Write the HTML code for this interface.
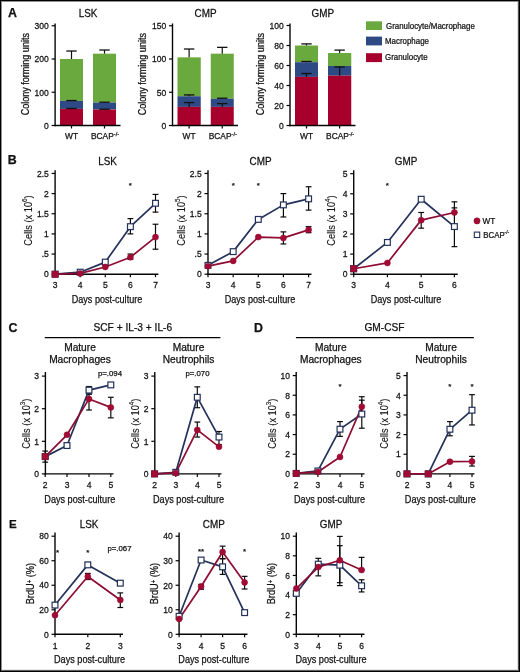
<!DOCTYPE html><html><head><meta charset="utf-8"><style>html,body{margin:0;padding:0;background:#fff;}svg{display:block;font-family:"Liberation Sans",sans-serif;will-change:transform;}text{stroke:#111;stroke-width:0.25px;}</style></head><body>
<svg width="520" height="672" viewBox="0 0 520 672">
<rect x="0" y="0" width="520" height="672" fill="#fff"/>
<text x="8" y="16.9" font-size="12.4" text-anchor="start" font-weight="bold" fill="#111111" style="stroke-width:0.25px">A</text>
<text x="7.8" y="164.3" font-size="12.4" text-anchor="start" font-weight="bold" fill="#111111" style="stroke-width:0.25px">B</text>
<text x="8.5" y="332" font-size="12.4" text-anchor="start" font-weight="bold" fill="#111111" style="stroke-width:0.25px">C</text>
<text x="254" y="332" font-size="12.4" text-anchor="start" font-weight="bold" fill="#111111" style="stroke-width:0.25px">D</text>
<text x="9" y="528.2" font-size="11.6" text-anchor="start" font-weight="bold" fill="#111111" style="stroke-width:0.25px">E</text>
<text transform="translate(88.1,17.3) scale(0.96,1)" font-size="10.3" text-anchor="middle" fill="#111111" >LSK</text>
<text transform="translate(205.5,17.3) scale(0.96,1)" font-size="10.3" text-anchor="middle" fill="#111111" >CMP</text>
<text transform="translate(322.8,17.3) scale(0.96,1)" font-size="10.3" text-anchor="middle" fill="#111111" >GMP</text>
<rect x="60" y="59.00" width="23.00" height="41.89" fill="#6aa93e"/>
<rect x="60" y="100.89" width="23.00" height="7.98" fill="#2e4a84"/>
<rect x="60" y="108.88" width="23.00" height="16.62" fill="#a7002d"/>
<line x1="71.50" y1="108.88" x2="71.50" y2="108.54" stroke="#111" stroke-width="1.2" stroke-linecap="butt"/>
<line x1="66.30" y1="108.54" x2="76.70" y2="108.54" stroke="#111" stroke-width="1.3" stroke-linecap="butt"/>
<line x1="71.50" y1="100.89" x2="71.50" y2="100.56" stroke="#111" stroke-width="1.2" stroke-linecap="butt"/>
<line x1="66.30" y1="100.56" x2="76.70" y2="100.56" stroke="#111" stroke-width="1.3" stroke-linecap="butt"/>
<line x1="71.50" y1="59.00" x2="71.50" y2="51.02" stroke="#111" stroke-width="1.2" stroke-linecap="butt"/>
<line x1="66.30" y1="51.02" x2="76.70" y2="51.02" stroke="#111" stroke-width="1.3" stroke-linecap="butt"/>
<rect x="93" y="53.68" width="23.00" height="48.88" fill="#6aa93e"/>
<rect x="93" y="102.56" width="23.00" height="6.98" fill="#2e4a84"/>
<rect x="93" y="109.54" width="23.00" height="15.96" fill="#a7002d"/>
<line x1="104.50" y1="109.54" x2="104.50" y2="109.21" stroke="#111" stroke-width="1.2" stroke-linecap="butt"/>
<line x1="99.30" y1="109.21" x2="109.70" y2="109.21" stroke="#111" stroke-width="1.3" stroke-linecap="butt"/>
<line x1="104.50" y1="102.56" x2="104.50" y2="102.22" stroke="#111" stroke-width="1.2" stroke-linecap="butt"/>
<line x1="99.30" y1="102.22" x2="109.70" y2="102.22" stroke="#111" stroke-width="1.3" stroke-linecap="butt"/>
<line x1="104.50" y1="53.68" x2="104.50" y2="50.02" stroke="#111" stroke-width="1.2" stroke-linecap="butt"/>
<line x1="99.30" y1="50.02" x2="109.70" y2="50.02" stroke="#111" stroke-width="1.3" stroke-linecap="butt"/>
<line x1="55.10" y1="23.50" x2="55.10" y2="126.15" stroke="#050505" stroke-width="1.4" stroke-linecap="butt"/>
<line x1="51.60" y1="125.50" x2="55.10" y2="125.50" stroke="#050505" stroke-width="1.2" stroke-linecap="butt"/>
<text transform="translate(48.800000000000004,128.75) scale(0.96,1)" font-size="8.9" text-anchor="end" fill="#111111" >0</text>
<line x1="51.60" y1="92.25" x2="55.10" y2="92.25" stroke="#050505" stroke-width="1.2" stroke-linecap="butt"/>
<text transform="translate(48.800000000000004,95.5) scale(0.96,1)" font-size="8.9" text-anchor="end" fill="#111111" >100</text>
<line x1="51.60" y1="59.00" x2="55.10" y2="59.00" stroke="#050505" stroke-width="1.2" stroke-linecap="butt"/>
<text transform="translate(48.800000000000004,62.25) scale(0.96,1)" font-size="8.9" text-anchor="end" fill="#111111" >200</text>
<line x1="51.60" y1="25.75" x2="55.10" y2="25.75" stroke="#050505" stroke-width="1.2" stroke-linecap="butt"/>
<text transform="translate(48.800000000000004,29.0) scale(0.96,1)" font-size="8.9" text-anchor="end" fill="#111111" >300</text>
<line x1="54.40" y1="125.50" x2="120.50" y2="125.50" stroke="#050505" stroke-width="1.4" stroke-linecap="butt"/>
<line x1="71.50" y1="125.50" x2="71.50" y2="128.50" stroke="#050505" stroke-width="1.2" stroke-linecap="butt"/>
<line x1="104.50" y1="125.50" x2="104.50" y2="128.50" stroke="#050505" stroke-width="1.2" stroke-linecap="butt"/>
<text x="71.5" y="139.3" font-size="8.4" text-anchor="middle" fill="#111111" >WT</text>
<text x="105.0" y="139.3" font-size="8.4" text-anchor="middle" fill="#111111" >BCAP<tspan dy="-3.2" font-size="5.5">-/-</tspan></text>
<rect x="177.5" y="57.34" width="23.25" height="38.90" fill="#6aa93e"/>
<rect x="177.5" y="96.24" width="23.25" height="10.64" fill="#2e4a84"/>
<rect x="177.5" y="106.88" width="23.25" height="18.62" fill="#a7002d"/>
<line x1="189.12" y1="106.88" x2="189.12" y2="102.56" stroke="#111" stroke-width="1.2" stroke-linecap="butt"/>
<line x1="183.93" y1="102.56" x2="194.32" y2="102.56" stroke="#111" stroke-width="1.3" stroke-linecap="butt"/>
<line x1="189.12" y1="96.24" x2="189.12" y2="94.91" stroke="#111" stroke-width="1.2" stroke-linecap="butt"/>
<line x1="183.93" y1="94.91" x2="194.32" y2="94.91" stroke="#111" stroke-width="1.3" stroke-linecap="butt"/>
<line x1="189.12" y1="57.34" x2="189.12" y2="49.02" stroke="#111" stroke-width="1.2" stroke-linecap="butt"/>
<line x1="183.93" y1="49.02" x2="194.32" y2="49.02" stroke="#111" stroke-width="1.3" stroke-linecap="butt"/>
<rect x="210.75" y="53.68" width="23.00" height="45.02" fill="#6aa93e"/>
<rect x="210.75" y="98.70" width="23.00" height="8.18" fill="#2e4a84"/>
<rect x="210.75" y="106.88" width="23.00" height="18.62" fill="#a7002d"/>
<line x1="222.25" y1="106.88" x2="222.25" y2="103.56" stroke="#111" stroke-width="1.2" stroke-linecap="butt"/>
<line x1="217.05" y1="103.56" x2="227.45" y2="103.56" stroke="#111" stroke-width="1.3" stroke-linecap="butt"/>
<line x1="222.25" y1="98.70" x2="222.25" y2="98.23" stroke="#111" stroke-width="1.2" stroke-linecap="butt"/>
<line x1="217.05" y1="98.23" x2="227.45" y2="98.23" stroke="#111" stroke-width="1.3" stroke-linecap="butt"/>
<line x1="222.25" y1="53.68" x2="222.25" y2="47.36" stroke="#111" stroke-width="1.2" stroke-linecap="butt"/>
<line x1="217.05" y1="47.36" x2="227.45" y2="47.36" stroke="#111" stroke-width="1.3" stroke-linecap="butt"/>
<line x1="172.50" y1="23.50" x2="172.50" y2="126.15" stroke="#050505" stroke-width="1.4" stroke-linecap="butt"/>
<line x1="169.00" y1="125.50" x2="172.50" y2="125.50" stroke="#050505" stroke-width="1.2" stroke-linecap="butt"/>
<text transform="translate(166.2,128.75) scale(0.96,1)" font-size="8.9" text-anchor="end" fill="#111111" >0</text>
<line x1="169.00" y1="92.25" x2="172.50" y2="92.25" stroke="#050505" stroke-width="1.2" stroke-linecap="butt"/>
<text transform="translate(166.2,95.5) scale(0.96,1)" font-size="8.9" text-anchor="end" fill="#111111" >50</text>
<line x1="169.00" y1="59.00" x2="172.50" y2="59.00" stroke="#050505" stroke-width="1.2" stroke-linecap="butt"/>
<text transform="translate(166.2,62.25) scale(0.96,1)" font-size="8.9" text-anchor="end" fill="#111111" >100</text>
<line x1="169.00" y1="25.75" x2="172.50" y2="25.75" stroke="#050505" stroke-width="1.2" stroke-linecap="butt"/>
<text transform="translate(166.2,29.0) scale(0.96,1)" font-size="8.9" text-anchor="end" fill="#111111" >150</text>
<line x1="171.80" y1="125.50" x2="238.00" y2="125.50" stroke="#050505" stroke-width="1.4" stroke-linecap="butt"/>
<line x1="189.12" y1="125.50" x2="189.12" y2="128.50" stroke="#050505" stroke-width="1.2" stroke-linecap="butt"/>
<line x1="222.25" y1="125.50" x2="222.25" y2="128.50" stroke="#050505" stroke-width="1.2" stroke-linecap="butt"/>
<text x="189.125" y="139.3" font-size="8.4" text-anchor="middle" fill="#111111" >WT</text>
<text x="222.75" y="139.3" font-size="8.4" text-anchor="middle" fill="#111111" >BCAP<tspan dy="-3.2" font-size="5.5">-/-</tspan></text>
<rect x="295" y="45.50" width="23.00" height="16.70" fill="#6aa93e"/>
<rect x="295" y="62.20" width="23.00" height="14.70" fill="#2e4a84"/>
<rect x="295" y="76.90" width="23.00" height="48.60" fill="#a7002d"/>
<line x1="306.50" y1="76.90" x2="306.50" y2="73.50" stroke="#111" stroke-width="1.2" stroke-linecap="butt"/>
<line x1="301.30" y1="73.50" x2="311.70" y2="73.50" stroke="#111" stroke-width="1.3" stroke-linecap="butt"/>
<line x1="306.50" y1="62.20" x2="306.50" y2="61.50" stroke="#111" stroke-width="1.2" stroke-linecap="butt"/>
<line x1="301.30" y1="61.50" x2="311.70" y2="61.50" stroke="#111" stroke-width="1.3" stroke-linecap="butt"/>
<line x1="306.50" y1="45.50" x2="306.50" y2="43.90" stroke="#111" stroke-width="1.2" stroke-linecap="butt"/>
<line x1="301.30" y1="43.90" x2="311.70" y2="43.90" stroke="#111" stroke-width="1.3" stroke-linecap="butt"/>
<rect x="328" y="53.00" width="23.25" height="13.00" fill="#6aa93e"/>
<rect x="328" y="66.00" width="23.25" height="9.70" fill="#2e4a84"/>
<rect x="328" y="75.70" width="23.25" height="49.80" fill="#a7002d"/>
<line x1="339.62" y1="75.70" x2="339.62" y2="67.00" stroke="#111" stroke-width="1.2" stroke-linecap="butt"/>
<line x1="334.43" y1="67.00" x2="344.82" y2="67.00" stroke="#111" stroke-width="1.3" stroke-linecap="butt"/>
<line x1="339.62" y1="53.00" x2="339.62" y2="50.10" stroke="#111" stroke-width="1.2" stroke-linecap="butt"/>
<line x1="334.43" y1="50.10" x2="344.82" y2="50.10" stroke="#111" stroke-width="1.3" stroke-linecap="butt"/>
<line x1="290.00" y1="23.50" x2="290.00" y2="126.15" stroke="#050505" stroke-width="1.4" stroke-linecap="butt"/>
<line x1="286.50" y1="125.50" x2="290.00" y2="125.50" stroke="#050505" stroke-width="1.2" stroke-linecap="butt"/>
<text transform="translate(283.7,128.75) scale(0.96,1)" font-size="8.9" text-anchor="end" fill="#111111" >0</text>
<line x1="286.50" y1="105.50" x2="290.00" y2="105.50" stroke="#050505" stroke-width="1.2" stroke-linecap="butt"/>
<text transform="translate(283.7,108.75) scale(0.96,1)" font-size="8.9" text-anchor="end" fill="#111111" >20</text>
<line x1="286.50" y1="85.50" x2="290.00" y2="85.50" stroke="#050505" stroke-width="1.2" stroke-linecap="butt"/>
<text transform="translate(283.7,88.75) scale(0.96,1)" font-size="8.9" text-anchor="end" fill="#111111" >40</text>
<line x1="286.50" y1="65.50" x2="290.00" y2="65.50" stroke="#050505" stroke-width="1.2" stroke-linecap="butt"/>
<text transform="translate(283.7,68.75) scale(0.96,1)" font-size="8.9" text-anchor="end" fill="#111111" >60</text>
<line x1="286.50" y1="45.50" x2="290.00" y2="45.50" stroke="#050505" stroke-width="1.2" stroke-linecap="butt"/>
<text transform="translate(283.7,48.75) scale(0.96,1)" font-size="8.9" text-anchor="end" fill="#111111" >80</text>
<line x1="286.50" y1="25.50" x2="290.00" y2="25.50" stroke="#050505" stroke-width="1.2" stroke-linecap="butt"/>
<text transform="translate(283.7,28.75) scale(0.96,1)" font-size="8.9" text-anchor="end" fill="#111111" >100</text>
<line x1="289.30" y1="125.50" x2="355.50" y2="125.50" stroke="#050505" stroke-width="1.4" stroke-linecap="butt"/>
<line x1="306.50" y1="125.50" x2="306.50" y2="128.50" stroke="#050505" stroke-width="1.2" stroke-linecap="butt"/>
<line x1="339.62" y1="125.50" x2="339.62" y2="128.50" stroke="#050505" stroke-width="1.2" stroke-linecap="butt"/>
<text x="306.5" y="139.3" font-size="8.4" text-anchor="middle" fill="#111111" >WT</text>
<text x="340.125" y="139.3" font-size="8.4" text-anchor="middle" fill="#111111" >BCAP<tspan dy="-3.2" font-size="5.5">-/-</tspan></text>
<text transform="translate(28.8,74.2) rotate(-90) scale(0.905,1)" font-size="10" text-anchor="middle" fill="#111111" >Colony forming units</text>
<text transform="translate(146.2,74.2) rotate(-90) scale(0.905,1)" font-size="10" text-anchor="middle" fill="#111111" >Colony forming units</text>
<text transform="translate(263.6,74.2) rotate(-90) scale(0.905,1)" font-size="10" text-anchor="middle" fill="#111111" >Colony forming units</text>
<rect x="366" y="21.3" width="16" height="8.7" fill="#6aa93e"/>
<rect x="366" y="36.6" width="16" height="8.8" fill="#2e4a84"/>
<rect x="366" y="53.2" width="16" height="8.9" fill="#a7002d"/>
<text transform="translate(386,28.8) scale(0.9,1)" font-size="8.8" text-anchor="start" fill="#111111" >Granulocyte/Macrophage</text>
<text transform="translate(385,43.8) scale(0.9,1)" font-size="8.8" text-anchor="start" fill="#111111" >Macrophage</text>
<text transform="translate(385,60) scale(0.9,1)" font-size="8.8" text-anchor="start" fill="#111111" >Granulocyte</text>
<text transform="translate(107.5,165) scale(0.96,1)" font-size="10.3" text-anchor="middle" fill="#111111" >LSK</text>
<text transform="translate(260.5,165) scale(0.96,1)" font-size="10.3" text-anchor="middle" fill="#111111" >CMP</text>
<text transform="translate(406,165) scale(0.96,1)" font-size="10.3" text-anchor="middle" fill="#111111" >GMP</text>
<line x1="55.10" y1="170.20" x2="55.10" y2="274.85" stroke="#050505" stroke-width="1.4" stroke-linecap="butt"/>
<line x1="51.60" y1="274.20" x2="55.10" y2="274.20" stroke="#050505" stroke-width="1.2" stroke-linecap="butt"/>
<text transform="translate(48.800000000000004,277.45) scale(0.96,1)" font-size="8.9" text-anchor="end" fill="#111111" >0</text>
<line x1="51.60" y1="254.05" x2="55.10" y2="254.05" stroke="#050505" stroke-width="1.2" stroke-linecap="butt"/>
<text transform="translate(48.800000000000004,257.29999999999995) scale(0.96,1)" font-size="8.9" text-anchor="end" fill="#111111" >.5</text>
<line x1="51.60" y1="233.90" x2="55.10" y2="233.90" stroke="#050505" stroke-width="1.2" stroke-linecap="butt"/>
<text transform="translate(48.800000000000004,237.14999999999998) scale(0.96,1)" font-size="8.9" text-anchor="end" fill="#111111" >1</text>
<line x1="51.60" y1="213.75" x2="55.10" y2="213.75" stroke="#050505" stroke-width="1.2" stroke-linecap="butt"/>
<text transform="translate(48.800000000000004,217.0) scale(0.96,1)" font-size="8.9" text-anchor="end" fill="#111111" >1.5</text>
<line x1="51.60" y1="193.60" x2="55.10" y2="193.60" stroke="#050505" stroke-width="1.2" stroke-linecap="butt"/>
<text transform="translate(48.800000000000004,196.85) scale(0.96,1)" font-size="8.9" text-anchor="end" fill="#111111" >2</text>
<line x1="51.60" y1="173.45" x2="55.10" y2="173.45" stroke="#050505" stroke-width="1.2" stroke-linecap="butt"/>
<text transform="translate(48.800000000000004,176.7) scale(0.96,1)" font-size="8.9" text-anchor="end" fill="#111111" >2.5</text>
<line x1="54.40" y1="274.20" x2="158.40" y2="274.20" stroke="#050505" stroke-width="1.4" stroke-linecap="butt"/>
<line x1="55.10" y1="274.20" x2="55.10" y2="277.20" stroke="#050505" stroke-width="1.2" stroke-linecap="butt"/>
<text transform="translate(55.1,288.4) scale(0.96,1)" font-size="8.9" text-anchor="middle" fill="#111111" >3</text>
<line x1="80.20" y1="274.20" x2="80.20" y2="277.20" stroke="#050505" stroke-width="1.2" stroke-linecap="butt"/>
<text transform="translate(80.2,288.4) scale(0.96,1)" font-size="8.9" text-anchor="middle" fill="#111111" >4</text>
<line x1="105.30" y1="274.20" x2="105.30" y2="277.20" stroke="#050505" stroke-width="1.2" stroke-linecap="butt"/>
<text transform="translate(105.3,288.4) scale(0.96,1)" font-size="8.9" text-anchor="middle" fill="#111111" >5</text>
<line x1="130.40" y1="274.20" x2="130.40" y2="277.20" stroke="#050505" stroke-width="1.2" stroke-linecap="butt"/>
<text transform="translate(130.4,288.4) scale(0.96,1)" font-size="8.9" text-anchor="middle" fill="#111111" >6</text>
<line x1="155.50" y1="274.20" x2="155.50" y2="277.20" stroke="#050505" stroke-width="1.2" stroke-linecap="butt"/>
<text transform="translate(155.5,288.4) scale(0.96,1)" font-size="8.9" text-anchor="middle" fill="#111111" >7</text>
<line x1="130.40" y1="233.90" x2="130.40" y2="218.59" stroke="#0a0a0a" stroke-width="1.2" stroke-linecap="butt"/>
<line x1="127.50" y1="233.90" x2="133.30" y2="233.90" stroke="#0a0a0a" stroke-width="1.2" stroke-linecap="butt"/>
<line x1="127.50" y1="218.59" x2="133.30" y2="218.59" stroke="#0a0a0a" stroke-width="1.2" stroke-linecap="butt"/>
<line x1="155.50" y1="212.14" x2="155.50" y2="194.41" stroke="#0a0a0a" stroke-width="1.2" stroke-linecap="butt"/>
<line x1="152.60" y1="212.14" x2="158.40" y2="212.14" stroke="#0a0a0a" stroke-width="1.2" stroke-linecap="butt"/>
<line x1="152.60" y1="194.41" x2="158.40" y2="194.41" stroke="#0a0a0a" stroke-width="1.2" stroke-linecap="butt"/>
<line x1="130.40" y1="259.29" x2="130.40" y2="254.05" stroke="#0a0a0a" stroke-width="1.2" stroke-linecap="butt"/>
<line x1="127.50" y1="259.29" x2="133.30" y2="259.29" stroke="#0a0a0a" stroke-width="1.2" stroke-linecap="butt"/>
<line x1="127.50" y1="254.05" x2="133.30" y2="254.05" stroke="#0a0a0a" stroke-width="1.2" stroke-linecap="butt"/>
<line x1="155.50" y1="249.21" x2="155.50" y2="224.23" stroke="#0a0a0a" stroke-width="1.2" stroke-linecap="butt"/>
<line x1="152.60" y1="249.21" x2="158.40" y2="249.21" stroke="#0a0a0a" stroke-width="1.2" stroke-linecap="butt"/>
<line x1="152.60" y1="224.23" x2="158.40" y2="224.23" stroke="#0a0a0a" stroke-width="1.2" stroke-linecap="butt"/>
<polyline points="55.10,274.20 80.20,272.19 105.30,262.11 130.40,226.65 155.50,203.27" fill="none" stroke="#24315a" stroke-width="1.7" stroke-linejoin="round"/>
<polyline points="55.10,274.20 80.20,273.39 105.30,266.95 130.40,257.27 155.50,237.12" fill="none" stroke="#8e0b31" stroke-width="1.7" stroke-linejoin="round"/>
<rect x="52.20" y="271.30" width="5.8" height="5.8" fill="#fff" stroke="#24315a" stroke-width="1.2"/>
<rect x="77.30" y="269.29" width="5.8" height="5.8" fill="#fff" stroke="#24315a" stroke-width="1.2"/>
<rect x="102.40" y="259.21" width="5.8" height="5.8" fill="#fff" stroke="#24315a" stroke-width="1.2"/>
<rect x="127.50" y="223.75" width="5.8" height="5.8" fill="#fff" stroke="#24315a" stroke-width="1.2"/>
<rect x="152.60" y="200.37" width="5.8" height="5.8" fill="#fff" stroke="#24315a" stroke-width="1.2"/>
<rect x="52.00" y="271.10" width="6.2" height="6.2" fill="#a50a35" stroke="#8a0a2c" stroke-width="0.5"/>
<circle cx="80.20" cy="273.39" r="3.0" fill="#a50a35" stroke="#8a0a2c" stroke-width="0.5"/>
<circle cx="105.30" cy="266.95" r="3.0" fill="#a50a35" stroke="#8a0a2c" stroke-width="0.5"/>
<circle cx="130.40" cy="257.27" r="3.0" fill="#a50a35" stroke="#8a0a2c" stroke-width="0.5"/>
<circle cx="155.50" cy="237.12" r="3.0" fill="#a50a35" stroke="#8a0a2c" stroke-width="0.5"/>
<text x="130.4" y="187.5" font-size="8" text-anchor="middle" fill="#111111" >*</text>
<line x1="208.00" y1="170.20" x2="208.00" y2="274.85" stroke="#050505" stroke-width="1.4" stroke-linecap="butt"/>
<line x1="204.50" y1="274.20" x2="208.00" y2="274.20" stroke="#050505" stroke-width="1.2" stroke-linecap="butt"/>
<text transform="translate(201.7,277.45) scale(0.96,1)" font-size="8.9" text-anchor="end" fill="#111111" >0</text>
<line x1="204.50" y1="254.05" x2="208.00" y2="254.05" stroke="#050505" stroke-width="1.2" stroke-linecap="butt"/>
<text transform="translate(201.7,257.29999999999995) scale(0.96,1)" font-size="8.9" text-anchor="end" fill="#111111" >.5</text>
<line x1="204.50" y1="233.90" x2="208.00" y2="233.90" stroke="#050505" stroke-width="1.2" stroke-linecap="butt"/>
<text transform="translate(201.7,237.14999999999998) scale(0.96,1)" font-size="8.9" text-anchor="end" fill="#111111" >1</text>
<line x1="204.50" y1="213.75" x2="208.00" y2="213.75" stroke="#050505" stroke-width="1.2" stroke-linecap="butt"/>
<text transform="translate(201.7,217.0) scale(0.96,1)" font-size="8.9" text-anchor="end" fill="#111111" >1.5</text>
<line x1="204.50" y1="193.60" x2="208.00" y2="193.60" stroke="#050505" stroke-width="1.2" stroke-linecap="butt"/>
<text transform="translate(201.7,196.85) scale(0.96,1)" font-size="8.9" text-anchor="end" fill="#111111" >2</text>
<line x1="204.50" y1="173.45" x2="208.00" y2="173.45" stroke="#050505" stroke-width="1.2" stroke-linecap="butt"/>
<text transform="translate(201.7,176.7) scale(0.96,1)" font-size="8.9" text-anchor="end" fill="#111111" >2.5</text>
<line x1="207.30" y1="274.20" x2="311.50" y2="274.20" stroke="#050505" stroke-width="1.4" stroke-linecap="butt"/>
<line x1="208.00" y1="274.20" x2="208.00" y2="277.20" stroke="#050505" stroke-width="1.2" stroke-linecap="butt"/>
<text transform="translate(208,288.4) scale(0.96,1)" font-size="8.9" text-anchor="middle" fill="#111111" >3</text>
<line x1="233.20" y1="274.20" x2="233.20" y2="277.20" stroke="#050505" stroke-width="1.2" stroke-linecap="butt"/>
<text transform="translate(233.2,288.4) scale(0.96,1)" font-size="8.9" text-anchor="middle" fill="#111111" >4</text>
<line x1="258.30" y1="274.20" x2="258.30" y2="277.20" stroke="#050505" stroke-width="1.2" stroke-linecap="butt"/>
<text transform="translate(258.3,288.4) scale(0.96,1)" font-size="8.9" text-anchor="middle" fill="#111111" >5</text>
<line x1="283.40" y1="274.20" x2="283.40" y2="277.20" stroke="#050505" stroke-width="1.2" stroke-linecap="butt"/>
<text transform="translate(283.4,288.4) scale(0.96,1)" font-size="8.9" text-anchor="middle" fill="#111111" >6</text>
<line x1="308.60" y1="274.20" x2="308.60" y2="277.20" stroke="#050505" stroke-width="1.2" stroke-linecap="butt"/>
<text transform="translate(308.6,288.4) scale(0.96,1)" font-size="8.9" text-anchor="middle" fill="#111111" >7</text>
<line x1="283.40" y1="216.97" x2="283.40" y2="193.60" stroke="#0a0a0a" stroke-width="1.2" stroke-linecap="butt"/>
<line x1="280.50" y1="216.97" x2="286.30" y2="216.97" stroke="#0a0a0a" stroke-width="1.2" stroke-linecap="butt"/>
<line x1="280.50" y1="193.60" x2="286.30" y2="193.60" stroke="#0a0a0a" stroke-width="1.2" stroke-linecap="butt"/>
<line x1="308.60" y1="210.12" x2="308.60" y2="186.75" stroke="#0a0a0a" stroke-width="1.2" stroke-linecap="butt"/>
<line x1="305.70" y1="210.12" x2="311.50" y2="210.12" stroke="#0a0a0a" stroke-width="1.2" stroke-linecap="butt"/>
<line x1="305.70" y1="186.75" x2="311.50" y2="186.75" stroke="#0a0a0a" stroke-width="1.2" stroke-linecap="butt"/>
<line x1="283.40" y1="243.97" x2="283.40" y2="231.88" stroke="#0a0a0a" stroke-width="1.2" stroke-linecap="butt"/>
<line x1="280.50" y1="243.97" x2="286.30" y2="243.97" stroke="#0a0a0a" stroke-width="1.2" stroke-linecap="butt"/>
<line x1="280.50" y1="231.88" x2="286.30" y2="231.88" stroke="#0a0a0a" stroke-width="1.2" stroke-linecap="butt"/>
<line x1="308.60" y1="232.69" x2="308.60" y2="226.65" stroke="#0a0a0a" stroke-width="1.2" stroke-linecap="butt"/>
<line x1="305.70" y1="232.69" x2="311.50" y2="232.69" stroke="#0a0a0a" stroke-width="1.2" stroke-linecap="butt"/>
<line x1="305.70" y1="226.65" x2="311.50" y2="226.65" stroke="#0a0a0a" stroke-width="1.2" stroke-linecap="butt"/>
<polyline points="208.00,265.33 233.20,251.63 258.30,219.39 283.40,204.88 308.60,198.84" fill="none" stroke="#24315a" stroke-width="1.7" stroke-linejoin="round"/>
<polyline points="208.00,266.14 233.20,260.90 258.30,237.12 283.40,237.93 308.60,229.87" fill="none" stroke="#8e0b31" stroke-width="1.7" stroke-linejoin="round"/>
<rect x="205.10" y="262.43" width="5.8" height="5.8" fill="#fff" stroke="#24315a" stroke-width="1.2"/>
<rect x="230.30" y="248.73" width="5.8" height="5.8" fill="#fff" stroke="#24315a" stroke-width="1.2"/>
<rect x="255.40" y="216.49" width="5.8" height="5.8" fill="#fff" stroke="#24315a" stroke-width="1.2"/>
<rect x="280.50" y="201.98" width="5.8" height="5.8" fill="#fff" stroke="#24315a" stroke-width="1.2"/>
<rect x="305.70" y="195.94" width="5.8" height="5.8" fill="#fff" stroke="#24315a" stroke-width="1.2"/>
<circle cx="208.00" cy="266.14" r="3.0" fill="#a50a35" stroke="#8a0a2c" stroke-width="0.5"/>
<circle cx="233.20" cy="260.90" r="3.0" fill="#a50a35" stroke="#8a0a2c" stroke-width="0.5"/>
<circle cx="258.30" cy="237.12" r="3.0" fill="#a50a35" stroke="#8a0a2c" stroke-width="0.5"/>
<circle cx="283.40" cy="237.93" r="3.0" fill="#a50a35" stroke="#8a0a2c" stroke-width="0.5"/>
<circle cx="308.60" cy="229.87" r="3.0" fill="#a50a35" stroke="#8a0a2c" stroke-width="0.5"/>
<text x="233.2" y="187.5" font-size="8" text-anchor="middle" fill="#111111" >*</text>
<text x="258.3" y="187.5" font-size="8" text-anchor="middle" fill="#111111" >*</text>
<line x1="353.70" y1="170.20" x2="353.70" y2="274.85" stroke="#050505" stroke-width="1.4" stroke-linecap="butt"/>
<line x1="350.20" y1="274.20" x2="353.70" y2="274.20" stroke="#050505" stroke-width="1.2" stroke-linecap="butt"/>
<text transform="translate(347.4,277.45) scale(0.96,1)" font-size="8.9" text-anchor="end" fill="#111111" >0</text>
<line x1="350.20" y1="254.10" x2="353.70" y2="254.10" stroke="#050505" stroke-width="1.2" stroke-linecap="butt"/>
<text transform="translate(347.4,257.35) scale(0.96,1)" font-size="8.9" text-anchor="end" fill="#111111" >1</text>
<line x1="350.20" y1="234.00" x2="353.70" y2="234.00" stroke="#050505" stroke-width="1.2" stroke-linecap="butt"/>
<text transform="translate(347.4,237.25) scale(0.96,1)" font-size="8.9" text-anchor="end" fill="#111111" >2</text>
<line x1="350.20" y1="213.90" x2="353.70" y2="213.90" stroke="#050505" stroke-width="1.2" stroke-linecap="butt"/>
<text transform="translate(347.4,217.14999999999998) scale(0.96,1)" font-size="8.9" text-anchor="end" fill="#111111" >3</text>
<line x1="350.20" y1="193.80" x2="353.70" y2="193.80" stroke="#050505" stroke-width="1.2" stroke-linecap="butt"/>
<text transform="translate(347.4,197.04999999999998) scale(0.96,1)" font-size="8.9" text-anchor="end" fill="#111111" >4</text>
<line x1="350.20" y1="173.70" x2="353.70" y2="173.70" stroke="#050505" stroke-width="1.2" stroke-linecap="butt"/>
<text transform="translate(347.4,176.95) scale(0.96,1)" font-size="8.9" text-anchor="end" fill="#111111" >5</text>
<line x1="353.00" y1="274.20" x2="457.70" y2="274.20" stroke="#050505" stroke-width="1.4" stroke-linecap="butt"/>
<line x1="353.70" y1="274.20" x2="353.70" y2="277.20" stroke="#050505" stroke-width="1.2" stroke-linecap="butt"/>
<text transform="translate(353.7,288.4) scale(0.96,1)" font-size="8.9" text-anchor="middle" fill="#111111" >3</text>
<line x1="387.40" y1="274.20" x2="387.40" y2="277.20" stroke="#050505" stroke-width="1.2" stroke-linecap="butt"/>
<text transform="translate(387.4,288.4) scale(0.96,1)" font-size="8.9" text-anchor="middle" fill="#111111" >4</text>
<line x1="421.20" y1="274.20" x2="421.20" y2="277.20" stroke="#050505" stroke-width="1.2" stroke-linecap="butt"/>
<text transform="translate(421.2,288.4) scale(0.96,1)" font-size="8.9" text-anchor="middle" fill="#111111" >5</text>
<line x1="454.40" y1="274.20" x2="454.40" y2="277.20" stroke="#050505" stroke-width="1.2" stroke-linecap="butt"/>
<text transform="translate(454.4,288.4) scale(0.96,1)" font-size="8.9" text-anchor="middle" fill="#111111" >6</text>
<line x1="454.40" y1="246.66" x2="454.40" y2="207.87" stroke="#0a0a0a" stroke-width="1.2" stroke-linecap="butt"/>
<line x1="451.50" y1="246.66" x2="457.30" y2="246.66" stroke="#0a0a0a" stroke-width="1.2" stroke-linecap="butt"/>
<line x1="451.50" y1="207.87" x2="457.30" y2="207.87" stroke="#0a0a0a" stroke-width="1.2" stroke-linecap="butt"/>
<line x1="421.20" y1="228.17" x2="421.20" y2="212.49" stroke="#0a0a0a" stroke-width="1.2" stroke-linecap="butt"/>
<line x1="418.30" y1="228.17" x2="424.10" y2="228.17" stroke="#0a0a0a" stroke-width="1.2" stroke-linecap="butt"/>
<line x1="418.30" y1="212.49" x2="424.10" y2="212.49" stroke="#0a0a0a" stroke-width="1.2" stroke-linecap="butt"/>
<line x1="454.40" y1="212.49" x2="454.40" y2="201.84" stroke="#0a0a0a" stroke-width="1.2" stroke-linecap="butt"/>
<line x1="451.50" y1="212.49" x2="457.30" y2="212.49" stroke="#0a0a0a" stroke-width="1.2" stroke-linecap="butt"/>
<line x1="451.50" y1="201.84" x2="457.30" y2="201.84" stroke="#0a0a0a" stroke-width="1.2" stroke-linecap="butt"/>
<polyline points="353.70,268.77 387.40,242.44 421.20,199.23 454.40,226.56" fill="none" stroke="#24315a" stroke-width="1.7" stroke-linejoin="round"/>
<polyline points="353.70,268.77 387.40,262.94 421.20,220.13 454.40,212.49" fill="none" stroke="#8e0b31" stroke-width="1.7" stroke-linejoin="round"/>
<rect x="350.80" y="265.87" width="5.8" height="5.8" fill="#fff" stroke="#24315a" stroke-width="1.2"/>
<rect x="384.50" y="239.54" width="5.8" height="5.8" fill="#fff" stroke="#24315a" stroke-width="1.2"/>
<rect x="418.30" y="196.33" width="5.8" height="5.8" fill="#fff" stroke="#24315a" stroke-width="1.2"/>
<rect x="451.50" y="223.66" width="5.8" height="5.8" fill="#fff" stroke="#24315a" stroke-width="1.2"/>
<rect x="350.60" y="265.67" width="6.2" height="6.2" fill="#a50a35" stroke="#8a0a2c" stroke-width="0.5"/>
<circle cx="387.40" cy="262.94" r="3.0" fill="#a50a35" stroke="#8a0a2c" stroke-width="0.5"/>
<circle cx="421.20" cy="220.13" r="3.0" fill="#a50a35" stroke="#8a0a2c" stroke-width="0.5"/>
<circle cx="454.40" cy="212.49" r="3.0" fill="#a50a35" stroke="#8a0a2c" stroke-width="0.5"/>
<text x="387.4" y="187.5" font-size="8" text-anchor="middle" fill="#111111" >*</text>
<text transform="translate(31.5,220.5) rotate(-90) scale(0.9,1)" font-size="10.3" text-anchor="middle" fill="#111111" style="stroke-width:0.12px">Cells (x 10<tspan dy="-4.6" font-size="7">6</tspan><tspan dy="4.6">)</tspan></text>
<text x="107" y="303.0" font-size="10.6" text-anchor="middle" textLength="70.5" lengthAdjust="spacingAndGlyphs" fill="#111111" >Days post-culture</text>
<text transform="translate(184.5,220.5) rotate(-90) scale(0.9,1)" font-size="10.3" text-anchor="middle" fill="#111111" style="stroke-width:0.12px">Cells (x 10<tspan dy="-4.6" font-size="7">5</tspan><tspan dy="4.6">)</tspan></text>
<text x="260" y="303.0" font-size="10.6" text-anchor="middle" textLength="70.5" lengthAdjust="spacingAndGlyphs" fill="#111111" >Days post-culture</text>
<text transform="translate(334.5,220.5) rotate(-90) scale(0.9,1)" font-size="10.3" text-anchor="middle" fill="#111111" style="stroke-width:0.12px">Cells (x 10<tspan dy="-4.6" font-size="7">4</tspan><tspan dy="4.6">)</tspan></text>
<text x="406" y="303.0" font-size="10.6" text-anchor="middle" textLength="70.5" lengthAdjust="spacingAndGlyphs" fill="#111111" >Days post-culture</text>
<circle cx="477" cy="220.9" r="3.1" fill="#a50a35" stroke="#8a0a2c" stroke-width="0.5"/>
<text transform="translate(482.6,223.6) scale(0.93,1)" font-size="8.8" text-anchor="start" fill="#111111" >WT</text>
<rect x="474.3" y="232.1" width="5.4" height="5.4" fill="#fff" stroke="#24315a" stroke-width="1.1"/>
<text transform="translate(483.3,237.5) scale(0.9,1)" font-size="8.7" text-anchor="start" fill="#111111" >BCAP<tspan dy="-3.2" font-size="5.5">-/-</tspan></text>
<text x="132.8" y="331.3" font-size="10.2" text-anchor="middle" fill="#111111" >SCF + IL-3 + IL-6</text>
<line x1="44.70" y1="337.70" x2="220.40" y2="337.70" stroke="#050505" stroke-width="1.3" stroke-linecap="butt"/>
<text x="384.5" y="331.3" font-size="10.2" text-anchor="middle" fill="#111111" >GM-CSF</text>
<line x1="295.90" y1="337.70" x2="473.90" y2="337.70" stroke="#050505" stroke-width="1.3" stroke-linecap="butt"/>
<text x="80" y="350.6" font-size="10.2" text-anchor="middle" fill="#111111" >Mature</text>
<text x="80" y="362.6" font-size="10.2" text-anchor="middle" fill="#111111" >Macrophages</text>
<text x="188.5" y="350.6" font-size="10.2" text-anchor="middle" fill="#111111" >Mature</text>
<text x="188.5" y="362.6" font-size="10.2" text-anchor="middle" fill="#111111" >Neutrophils</text>
<text x="330.8" y="350.6" font-size="10.2" text-anchor="middle" fill="#111111" >Mature</text>
<text x="330.8" y="362.6" font-size="10.2" text-anchor="middle" fill="#111111" >Macrophages</text>
<text x="441" y="350.6" font-size="10.2" text-anchor="middle" fill="#111111" >Mature</text>
<text x="441" y="362.6" font-size="10.2" text-anchor="middle" fill="#111111" >Neutrophils</text>
<line x1="45.40" y1="372.00" x2="45.40" y2="474.55" stroke="#050505" stroke-width="1.4" stroke-linecap="butt"/>
<line x1="41.90" y1="473.90" x2="45.40" y2="473.90" stroke="#050505" stroke-width="1.2" stroke-linecap="butt"/>
<text transform="translate(39.1,477.15) scale(0.96,1)" font-size="8.9" text-anchor="end" fill="#111111" >0</text>
<line x1="41.90" y1="441.30" x2="45.40" y2="441.30" stroke="#050505" stroke-width="1.2" stroke-linecap="butt"/>
<text transform="translate(39.1,444.54999999999995) scale(0.96,1)" font-size="8.9" text-anchor="end" fill="#111111" >1</text>
<line x1="41.90" y1="408.70" x2="45.40" y2="408.70" stroke="#050505" stroke-width="1.2" stroke-linecap="butt"/>
<text transform="translate(39.1,411.95) scale(0.96,1)" font-size="8.9" text-anchor="end" fill="#111111" >2</text>
<line x1="41.90" y1="376.10" x2="45.40" y2="376.10" stroke="#050505" stroke-width="1.2" stroke-linecap="butt"/>
<text transform="translate(39.1,379.34999999999997) scale(0.96,1)" font-size="8.9" text-anchor="end" fill="#111111" >3</text>
<line x1="44.70" y1="473.90" x2="113.50" y2="473.90" stroke="#050505" stroke-width="1.4" stroke-linecap="butt"/>
<line x1="45.20" y1="473.90" x2="45.20" y2="476.90" stroke="#050505" stroke-width="1.2" stroke-linecap="butt"/>
<text transform="translate(45.2,487.8) scale(0.96,1)" font-size="8.9" text-anchor="middle" fill="#111111" >2</text>
<line x1="67.00" y1="473.90" x2="67.00" y2="476.90" stroke="#050505" stroke-width="1.2" stroke-linecap="butt"/>
<text transform="translate(67,487.8) scale(0.96,1)" font-size="8.9" text-anchor="middle" fill="#111111" >3</text>
<line x1="89.00" y1="473.90" x2="89.00" y2="476.90" stroke="#050505" stroke-width="1.2" stroke-linecap="butt"/>
<text transform="translate(89,487.8) scale(0.96,1)" font-size="8.9" text-anchor="middle" fill="#111111" >4</text>
<line x1="110.80" y1="473.90" x2="110.80" y2="476.90" stroke="#050505" stroke-width="1.2" stroke-linecap="butt"/>
<text transform="translate(110.8,487.8) scale(0.96,1)" font-size="8.9" text-anchor="middle" fill="#111111" >5</text>
<line x1="89.00" y1="394.03" x2="89.00" y2="386.53" stroke="#0a0a0a" stroke-width="1.2" stroke-linecap="butt"/>
<line x1="86.10" y1="394.03" x2="91.90" y2="394.03" stroke="#0a0a0a" stroke-width="1.2" stroke-linecap="butt"/>
<line x1="86.10" y1="386.53" x2="91.90" y2="386.53" stroke="#0a0a0a" stroke-width="1.2" stroke-linecap="butt"/>
<line x1="45.20" y1="462.16" x2="45.20" y2="451.08" stroke="#0a0a0a" stroke-width="1.2" stroke-linecap="butt"/>
<line x1="42.30" y1="462.16" x2="48.10" y2="462.16" stroke="#0a0a0a" stroke-width="1.2" stroke-linecap="butt"/>
<line x1="42.30" y1="451.08" x2="48.10" y2="451.08" stroke="#0a0a0a" stroke-width="1.2" stroke-linecap="butt"/>
<line x1="89.00" y1="410.00" x2="89.00" y2="394.03" stroke="#0a0a0a" stroke-width="1.2" stroke-linecap="butt"/>
<line x1="86.10" y1="410.00" x2="91.90" y2="410.00" stroke="#0a0a0a" stroke-width="1.2" stroke-linecap="butt"/>
<line x1="86.10" y1="394.03" x2="91.90" y2="394.03" stroke="#0a0a0a" stroke-width="1.2" stroke-linecap="butt"/>
<line x1="110.80" y1="417.83" x2="110.80" y2="397.29" stroke="#0a0a0a" stroke-width="1.2" stroke-linecap="butt"/>
<line x1="107.90" y1="417.83" x2="113.70" y2="417.83" stroke="#0a0a0a" stroke-width="1.2" stroke-linecap="butt"/>
<line x1="107.90" y1="397.29" x2="113.70" y2="397.29" stroke="#0a0a0a" stroke-width="1.2" stroke-linecap="butt"/>
<polyline points="45.20,456.62 67.00,445.54 89.00,390.12 110.80,384.90" fill="none" stroke="#24315a" stroke-width="1.7" stroke-linejoin="round"/>
<polyline points="45.20,456.62 67.00,434.78 89.00,398.92 110.80,407.40" fill="none" stroke="#8e0b31" stroke-width="1.7" stroke-linejoin="round"/>
<rect x="42.30" y="453.72" width="5.8" height="5.8" fill="#fff" stroke="#24315a" stroke-width="1.2"/>
<rect x="64.10" y="442.64" width="5.8" height="5.8" fill="#fff" stroke="#24315a" stroke-width="1.2"/>
<rect x="86.10" y="387.22" width="5.8" height="5.8" fill="#fff" stroke="#24315a" stroke-width="1.2"/>
<rect x="107.90" y="382.00" width="5.8" height="5.8" fill="#fff" stroke="#24315a" stroke-width="1.2"/>
<rect x="42.10" y="453.52" width="6.2" height="6.2" fill="#a50a35" stroke="#8a0a2c" stroke-width="0.5"/>
<circle cx="67.00" cy="434.78" r="3.0" fill="#a50a35" stroke="#8a0a2c" stroke-width="0.5"/>
<circle cx="89.00" cy="398.92" r="3.0" fill="#a50a35" stroke="#8a0a2c" stroke-width="0.5"/>
<circle cx="110.80" cy="407.40" r="3.0" fill="#a50a35" stroke="#8a0a2c" stroke-width="0.5"/>
<line x1="154.80" y1="372.00" x2="154.80" y2="474.55" stroke="#050505" stroke-width="1.4" stroke-linecap="butt"/>
<line x1="151.30" y1="473.90" x2="154.80" y2="473.90" stroke="#050505" stroke-width="1.2" stroke-linecap="butt"/>
<text transform="translate(148.5,477.15) scale(0.96,1)" font-size="8.9" text-anchor="end" fill="#111111" >0</text>
<line x1="151.30" y1="441.30" x2="154.80" y2="441.30" stroke="#050505" stroke-width="1.2" stroke-linecap="butt"/>
<text transform="translate(148.5,444.54999999999995) scale(0.96,1)" font-size="8.9" text-anchor="end" fill="#111111" >1</text>
<line x1="151.30" y1="408.70" x2="154.80" y2="408.70" stroke="#050505" stroke-width="1.2" stroke-linecap="butt"/>
<text transform="translate(148.5,411.95) scale(0.96,1)" font-size="8.9" text-anchor="end" fill="#111111" >2</text>
<line x1="151.30" y1="376.10" x2="154.80" y2="376.10" stroke="#050505" stroke-width="1.2" stroke-linecap="butt"/>
<text transform="translate(148.5,379.34999999999997) scale(0.96,1)" font-size="8.9" text-anchor="end" fill="#111111" >3</text>
<line x1="154.10" y1="473.90" x2="221.50" y2="473.90" stroke="#050505" stroke-width="1.4" stroke-linecap="butt"/>
<line x1="154.60" y1="473.90" x2="154.60" y2="476.90" stroke="#050505" stroke-width="1.2" stroke-linecap="butt"/>
<text transform="translate(154.6,487.8) scale(0.96,1)" font-size="8.9" text-anchor="middle" fill="#111111" >2</text>
<line x1="175.80" y1="473.90" x2="175.80" y2="476.90" stroke="#050505" stroke-width="1.2" stroke-linecap="butt"/>
<text transform="translate(175.8,487.8) scale(0.96,1)" font-size="8.9" text-anchor="middle" fill="#111111" >3</text>
<line x1="197.30" y1="473.90" x2="197.30" y2="476.90" stroke="#050505" stroke-width="1.2" stroke-linecap="butt"/>
<text transform="translate(197.3,487.8) scale(0.96,1)" font-size="8.9" text-anchor="middle" fill="#111111" >4</text>
<line x1="219.00" y1="473.90" x2="219.00" y2="476.90" stroke="#050505" stroke-width="1.2" stroke-linecap="butt"/>
<text transform="translate(219,487.8) scale(0.96,1)" font-size="8.9" text-anchor="middle" fill="#111111" >5</text>
<line x1="197.30" y1="407.72" x2="197.30" y2="386.86" stroke="#0a0a0a" stroke-width="1.2" stroke-linecap="butt"/>
<line x1="194.40" y1="407.72" x2="200.20" y2="407.72" stroke="#0a0a0a" stroke-width="1.2" stroke-linecap="butt"/>
<line x1="194.40" y1="386.86" x2="200.20" y2="386.86" stroke="#0a0a0a" stroke-width="1.2" stroke-linecap="butt"/>
<line x1="219.00" y1="444.56" x2="219.00" y2="431.52" stroke="#0a0a0a" stroke-width="1.2" stroke-linecap="butt"/>
<line x1="216.10" y1="444.56" x2="221.90" y2="444.56" stroke="#0a0a0a" stroke-width="1.2" stroke-linecap="butt"/>
<line x1="216.10" y1="431.52" x2="221.90" y2="431.52" stroke="#0a0a0a" stroke-width="1.2" stroke-linecap="butt"/>
<line x1="197.30" y1="437.06" x2="197.30" y2="422.07" stroke="#0a0a0a" stroke-width="1.2" stroke-linecap="butt"/>
<line x1="194.40" y1="437.06" x2="200.20" y2="437.06" stroke="#0a0a0a" stroke-width="1.2" stroke-linecap="butt"/>
<line x1="194.40" y1="422.07" x2="200.20" y2="422.07" stroke="#0a0a0a" stroke-width="1.2" stroke-linecap="butt"/>
<polyline points="154.60,473.90 175.80,472.27 197.30,397.29 219.00,437.06" fill="none" stroke="#24315a" stroke-width="1.7" stroke-linejoin="round"/>
<polyline points="154.60,473.90 175.80,472.92 197.30,429.89 219.00,446.84" fill="none" stroke="#8e0b31" stroke-width="1.7" stroke-linejoin="round"/>
<rect x="151.70" y="471.00" width="5.8" height="5.8" fill="#fff" stroke="#24315a" stroke-width="1.2"/>
<rect x="172.90" y="469.37" width="5.8" height="5.8" fill="#fff" stroke="#24315a" stroke-width="1.2"/>
<rect x="194.40" y="394.39" width="5.8" height="5.8" fill="#fff" stroke="#24315a" stroke-width="1.2"/>
<rect x="216.10" y="434.16" width="5.8" height="5.8" fill="#fff" stroke="#24315a" stroke-width="1.2"/>
<rect x="151.50" y="470.80" width="6.2" height="6.2" fill="#a50a35" stroke="#8a0a2c" stroke-width="0.5"/>
<circle cx="175.80" cy="472.92" r="3.0" fill="#a50a35" stroke="#8a0a2c" stroke-width="0.5"/>
<circle cx="197.30" cy="429.89" r="3.0" fill="#a50a35" stroke="#8a0a2c" stroke-width="0.5"/>
<circle cx="219.00" cy="446.84" r="3.0" fill="#a50a35" stroke="#8a0a2c" stroke-width="0.5"/>
<line x1="296.20" y1="372.00" x2="296.20" y2="474.55" stroke="#050505" stroke-width="1.4" stroke-linecap="butt"/>
<line x1="292.70" y1="473.90" x2="296.20" y2="473.90" stroke="#050505" stroke-width="1.2" stroke-linecap="butt"/>
<text transform="translate(289.9,477.15) scale(0.96,1)" font-size="8.9" text-anchor="end" fill="#111111" >0</text>
<line x1="292.70" y1="454.24" x2="296.20" y2="454.24" stroke="#050505" stroke-width="1.2" stroke-linecap="butt"/>
<text transform="translate(289.9,457.48999999999995) scale(0.96,1)" font-size="8.9" text-anchor="end" fill="#111111" >2</text>
<line x1="292.70" y1="434.58" x2="296.20" y2="434.58" stroke="#050505" stroke-width="1.2" stroke-linecap="butt"/>
<text transform="translate(289.9,437.83) scale(0.96,1)" font-size="8.9" text-anchor="end" fill="#111111" >4</text>
<line x1="292.70" y1="414.92" x2="296.20" y2="414.92" stroke="#050505" stroke-width="1.2" stroke-linecap="butt"/>
<text transform="translate(289.9,418.16999999999996) scale(0.96,1)" font-size="8.9" text-anchor="end" fill="#111111" >6</text>
<line x1="292.70" y1="395.26" x2="296.20" y2="395.26" stroke="#050505" stroke-width="1.2" stroke-linecap="butt"/>
<text transform="translate(289.9,398.51) scale(0.96,1)" font-size="8.9" text-anchor="end" fill="#111111" >8</text>
<line x1="292.70" y1="375.60" x2="296.20" y2="375.60" stroke="#050505" stroke-width="1.2" stroke-linecap="butt"/>
<text transform="translate(289.9,378.84999999999997) scale(0.96,1)" font-size="8.9" text-anchor="end" fill="#111111" >10</text>
<line x1="295.50" y1="473.90" x2="364.50" y2="473.90" stroke="#050505" stroke-width="1.4" stroke-linecap="butt"/>
<line x1="296.20" y1="473.90" x2="296.20" y2="476.90" stroke="#050505" stroke-width="1.2" stroke-linecap="butt"/>
<text transform="translate(296.2,487.8) scale(0.96,1)" font-size="8.9" text-anchor="middle" fill="#111111" >2</text>
<line x1="317.90" y1="473.90" x2="317.90" y2="476.90" stroke="#050505" stroke-width="1.2" stroke-linecap="butt"/>
<text transform="translate(317.9,487.8) scale(0.96,1)" font-size="8.9" text-anchor="middle" fill="#111111" >3</text>
<line x1="340.00" y1="473.90" x2="340.00" y2="476.90" stroke="#050505" stroke-width="1.2" stroke-linecap="butt"/>
<text transform="translate(340,487.8) scale(0.96,1)" font-size="8.9" text-anchor="middle" fill="#111111" >4</text>
<line x1="361.80" y1="473.90" x2="361.80" y2="476.90" stroke="#050505" stroke-width="1.2" stroke-linecap="butt"/>
<text transform="translate(361.8,487.8) scale(0.96,1)" font-size="8.9" text-anchor="middle" fill="#111111" >5</text>
<line x1="340.00" y1="436.35" x2="340.00" y2="421.60" stroke="#0a0a0a" stroke-width="1.2" stroke-linecap="butt"/>
<line x1="337.10" y1="436.35" x2="342.90" y2="436.35" stroke="#0a0a0a" stroke-width="1.2" stroke-linecap="butt"/>
<line x1="337.10" y1="421.60" x2="342.90" y2="421.60" stroke="#0a0a0a" stroke-width="1.2" stroke-linecap="butt"/>
<line x1="361.80" y1="428.19" x2="361.80" y2="396.73" stroke="#0a0a0a" stroke-width="1.2" stroke-linecap="butt"/>
<line x1="358.90" y1="428.19" x2="364.70" y2="428.19" stroke="#0a0a0a" stroke-width="1.2" stroke-linecap="butt"/>
<line x1="358.90" y1="396.73" x2="364.70" y2="396.73" stroke="#0a0a0a" stroke-width="1.2" stroke-linecap="butt"/>
<line x1="361.80" y1="413.94" x2="361.80" y2="400.17" stroke="#0a0a0a" stroke-width="1.2" stroke-linecap="butt"/>
<line x1="358.90" y1="413.94" x2="364.70" y2="413.94" stroke="#0a0a0a" stroke-width="1.2" stroke-linecap="butt"/>
<line x1="358.90" y1="400.17" x2="364.70" y2="400.17" stroke="#0a0a0a" stroke-width="1.2" stroke-linecap="butt"/>
<polyline points="296.20,473.41 317.90,470.95 340.00,429.17 361.80,414.04" fill="none" stroke="#24315a" stroke-width="1.7" stroke-linejoin="round"/>
<polyline points="296.20,473.41 317.90,471.93 340.00,456.99 361.80,406.66" fill="none" stroke="#8e0b31" stroke-width="1.7" stroke-linejoin="round"/>
<rect x="293.30" y="470.51" width="5.8" height="5.8" fill="#fff" stroke="#24315a" stroke-width="1.2"/>
<rect x="315.00" y="468.05" width="5.8" height="5.8" fill="#fff" stroke="#24315a" stroke-width="1.2"/>
<rect x="337.10" y="426.27" width="5.8" height="5.8" fill="#fff" stroke="#24315a" stroke-width="1.2"/>
<rect x="358.90" y="411.14" width="5.8" height="5.8" fill="#fff" stroke="#24315a" stroke-width="1.2"/>
<rect x="293.10" y="470.31" width="6.2" height="6.2" fill="#a50a35" stroke="#8a0a2c" stroke-width="0.5"/>
<circle cx="317.90" cy="471.93" r="3.0" fill="#a50a35" stroke="#8a0a2c" stroke-width="0.5"/>
<circle cx="340.00" cy="456.99" r="3.0" fill="#a50a35" stroke="#8a0a2c" stroke-width="0.5"/>
<circle cx="361.80" cy="406.66" r="3.0" fill="#a50a35" stroke="#8a0a2c" stroke-width="0.5"/>
<text x="340" y="389" font-size="8" text-anchor="middle" fill="#111111" >*</text>
<line x1="407.00" y1="372.00" x2="407.00" y2="474.55" stroke="#050505" stroke-width="1.4" stroke-linecap="butt"/>
<line x1="403.50" y1="473.90" x2="407.00" y2="473.90" stroke="#050505" stroke-width="1.2" stroke-linecap="butt"/>
<text transform="translate(400.7,477.15) scale(0.96,1)" font-size="8.9" text-anchor="end" fill="#111111" >0</text>
<line x1="403.50" y1="454.24" x2="407.00" y2="454.24" stroke="#050505" stroke-width="1.2" stroke-linecap="butt"/>
<text transform="translate(400.7,457.48999999999995) scale(0.96,1)" font-size="8.9" text-anchor="end" fill="#111111" >1</text>
<line x1="403.50" y1="434.58" x2="407.00" y2="434.58" stroke="#050505" stroke-width="1.2" stroke-linecap="butt"/>
<text transform="translate(400.7,437.83) scale(0.96,1)" font-size="8.9" text-anchor="end" fill="#111111" >2</text>
<line x1="403.50" y1="414.92" x2="407.00" y2="414.92" stroke="#050505" stroke-width="1.2" stroke-linecap="butt"/>
<text transform="translate(400.7,418.16999999999996) scale(0.96,1)" font-size="8.9" text-anchor="end" fill="#111111" >3</text>
<line x1="403.50" y1="395.26" x2="407.00" y2="395.26" stroke="#050505" stroke-width="1.2" stroke-linecap="butt"/>
<text transform="translate(400.7,398.51) scale(0.96,1)" font-size="8.9" text-anchor="end" fill="#111111" >4</text>
<line x1="403.50" y1="375.60" x2="407.00" y2="375.60" stroke="#050505" stroke-width="1.2" stroke-linecap="butt"/>
<text transform="translate(400.7,378.84999999999997) scale(0.96,1)" font-size="8.9" text-anchor="end" fill="#111111" >5</text>
<line x1="406.30" y1="473.90" x2="474.50" y2="473.90" stroke="#050505" stroke-width="1.4" stroke-linecap="butt"/>
<line x1="407.00" y1="473.90" x2="407.00" y2="476.90" stroke="#050505" stroke-width="1.2" stroke-linecap="butt"/>
<text transform="translate(407,487.8) scale(0.96,1)" font-size="8.9" text-anchor="middle" fill="#111111" >2</text>
<line x1="428.20" y1="473.90" x2="428.20" y2="476.90" stroke="#050505" stroke-width="1.2" stroke-linecap="butt"/>
<text transform="translate(428.2,487.8) scale(0.96,1)" font-size="8.9" text-anchor="middle" fill="#111111" >3</text>
<line x1="449.90" y1="473.90" x2="449.90" y2="476.90" stroke="#050505" stroke-width="1.2" stroke-linecap="butt"/>
<text transform="translate(449.9,487.8) scale(0.96,1)" font-size="8.9" text-anchor="middle" fill="#111111" >4</text>
<line x1="472.00" y1="473.90" x2="472.00" y2="476.90" stroke="#050505" stroke-width="1.2" stroke-linecap="butt"/>
<text transform="translate(472,487.8) scale(0.96,1)" font-size="8.9" text-anchor="middle" fill="#111111" >5</text>
<line x1="449.90" y1="435.76" x2="449.90" y2="421.60" stroke="#0a0a0a" stroke-width="1.2" stroke-linecap="butt"/>
<line x1="447.00" y1="435.76" x2="452.80" y2="435.76" stroke="#0a0a0a" stroke-width="1.2" stroke-linecap="butt"/>
<line x1="447.00" y1="421.60" x2="452.80" y2="421.60" stroke="#0a0a0a" stroke-width="1.2" stroke-linecap="butt"/>
<line x1="472.00" y1="424.95" x2="472.00" y2="394.67" stroke="#0a0a0a" stroke-width="1.2" stroke-linecap="butt"/>
<line x1="469.10" y1="424.95" x2="474.90" y2="424.95" stroke="#0a0a0a" stroke-width="1.2" stroke-linecap="butt"/>
<line x1="469.10" y1="394.67" x2="474.90" y2="394.67" stroke="#0a0a0a" stroke-width="1.2" stroke-linecap="butt"/>
<line x1="472.00" y1="466.04" x2="472.00" y2="456.40" stroke="#0a0a0a" stroke-width="1.2" stroke-linecap="butt"/>
<line x1="469.10" y1="466.04" x2="474.90" y2="466.04" stroke="#0a0a0a" stroke-width="1.2" stroke-linecap="butt"/>
<line x1="469.10" y1="456.40" x2="474.90" y2="456.40" stroke="#0a0a0a" stroke-width="1.2" stroke-linecap="butt"/>
<polyline points="407.00,473.90 428.20,473.90 449.90,429.27 472.00,410.20" fill="none" stroke="#24315a" stroke-width="1.7" stroke-linejoin="round"/>
<polyline points="407.00,473.90 428.20,473.90 449.90,461.71 472.00,461.51" fill="none" stroke="#8e0b31" stroke-width="1.7" stroke-linejoin="round"/>
<rect x="404.10" y="471.00" width="5.8" height="5.8" fill="#fff" stroke="#24315a" stroke-width="1.2"/>
<rect x="425.30" y="471.00" width="5.8" height="5.8" fill="#fff" stroke="#24315a" stroke-width="1.2"/>
<rect x="447.00" y="426.37" width="5.8" height="5.8" fill="#fff" stroke="#24315a" stroke-width="1.2"/>
<rect x="469.10" y="407.30" width="5.8" height="5.8" fill="#fff" stroke="#24315a" stroke-width="1.2"/>
<rect x="403.90" y="470.80" width="6.2" height="6.2" fill="#a50a35" stroke="#8a0a2c" stroke-width="0.5"/>
<rect x="425.10" y="470.80" width="6.2" height="6.2" fill="#a50a35" stroke="#8a0a2c" stroke-width="0.5"/>
<circle cx="449.90" cy="461.71" r="3.0" fill="#a50a35" stroke="#8a0a2c" stroke-width="0.5"/>
<circle cx="472.00" cy="461.51" r="3.0" fill="#a50a35" stroke="#8a0a2c" stroke-width="0.5"/>
<text x="449.9" y="389" font-size="8" text-anchor="middle" fill="#111111" >*</text>
<text x="472" y="389" font-size="8" text-anchor="middle" fill="#111111" >*</text>
<text x="110" y="376.4" font-size="7.8" text-anchor="middle" fill="#111111" >p=.094</text>
<text x="197.5" y="376.4" font-size="7.8" text-anchor="middle" fill="#111111" >p=.070</text>
<text transform="translate(29.5,423.7) rotate(-90) scale(0.9,1)" font-size="10.3" text-anchor="middle" fill="#111111" style="stroke-width:0.12px">Cells (x 10<tspan dy="-4.6" font-size="7">3</tspan><tspan dy="4.6">)</tspan></text>
<text x="79.8" y="502.0" font-size="10.6" text-anchor="middle" textLength="71" lengthAdjust="spacingAndGlyphs" fill="#111111" dy="0.6">Days post-culture</text>
<text transform="translate(138.5,423.7) rotate(-90) scale(0.9,1)" font-size="10.3" text-anchor="middle" fill="#111111" style="stroke-width:0.12px">Cells (x 10<tspan dy="-4.6" font-size="7">4</tspan><tspan dy="4.6">)</tspan></text>
<text x="188.5" y="502.0" font-size="10.6" text-anchor="middle" textLength="71" lengthAdjust="spacingAndGlyphs" fill="#111111" dy="0.6">Days post-culture</text>
<text transform="translate(275.5,423.7) rotate(-90) scale(0.9,1)" font-size="10.3" text-anchor="middle" fill="#111111" style="stroke-width:0.12px">Cells (x 10<tspan dy="-4.6" font-size="7">3</tspan><tspan dy="4.6">)</tspan></text>
<text x="329.5" y="502.0" font-size="10.6" text-anchor="middle" textLength="71" lengthAdjust="spacingAndGlyphs" fill="#111111" dy="0.6">Days post-culture</text>
<text transform="translate(388,423.7) rotate(-90) scale(0.9,1)" font-size="10.3" text-anchor="middle" fill="#111111" style="stroke-width:0.12px">Cells (x 10<tspan dy="-4.6" font-size="7">4</tspan><tspan dy="4.6">)</tspan></text>
<text x="440.3" y="502.0" font-size="10.6" text-anchor="middle" textLength="71" lengthAdjust="spacingAndGlyphs" fill="#111111" dy="0.6">Days post-culture</text>
<text transform="translate(89,527.8) scale(0.96,1)" font-size="10.3" text-anchor="middle" fill="#111111" >LSK</text>
<text transform="translate(213.8,527.8) scale(0.96,1)" font-size="10.3" text-anchor="middle" fill="#111111" >CMP</text>
<text transform="translate(331,527.8) scale(0.96,1)" font-size="10.3" text-anchor="middle" fill="#111111" >GMP</text>
<line x1="55.00" y1="532.50" x2="55.00" y2="634.95" stroke="#050505" stroke-width="1.4" stroke-linecap="butt"/>
<line x1="51.50" y1="634.30" x2="55.00" y2="634.30" stroke="#050505" stroke-width="1.2" stroke-linecap="butt"/>
<text transform="translate(48.7,637.55) scale(0.96,1)" font-size="8.9" text-anchor="end" fill="#111111" >0</text>
<line x1="51.50" y1="609.77" x2="55.00" y2="609.77" stroke="#050505" stroke-width="1.2" stroke-linecap="butt"/>
<text transform="translate(48.7,613.024) scale(0.96,1)" font-size="8.9" text-anchor="end" fill="#111111" >20</text>
<line x1="51.50" y1="585.25" x2="55.00" y2="585.25" stroke="#050505" stroke-width="1.2" stroke-linecap="butt"/>
<text transform="translate(48.7,588.4979999999999) scale(0.96,1)" font-size="8.9" text-anchor="end" fill="#111111" >40</text>
<line x1="51.50" y1="560.72" x2="55.00" y2="560.72" stroke="#050505" stroke-width="1.2" stroke-linecap="butt"/>
<text transform="translate(48.7,563.972) scale(0.96,1)" font-size="8.9" text-anchor="end" fill="#111111" >60</text>
<line x1="51.50" y1="536.20" x2="55.00" y2="536.20" stroke="#050505" stroke-width="1.2" stroke-linecap="butt"/>
<text transform="translate(48.7,539.4459999999999) scale(0.96,1)" font-size="8.9" text-anchor="end" fill="#111111" >80</text>
<line x1="54.30" y1="634.30" x2="123.00" y2="634.30" stroke="#050505" stroke-width="1.4" stroke-linecap="butt"/>
<line x1="55.00" y1="634.30" x2="55.00" y2="637.30" stroke="#050505" stroke-width="1.2" stroke-linecap="butt"/>
<text transform="translate(55,648.5) scale(0.96,1)" font-size="8.9" text-anchor="middle" fill="#111111" >1</text>
<line x1="87.80" y1="634.30" x2="87.80" y2="637.30" stroke="#050505" stroke-width="1.2" stroke-linecap="butt"/>
<text transform="translate(87.8,648.5) scale(0.96,1)" font-size="8.9" text-anchor="middle" fill="#111111" >2</text>
<line x1="120.30" y1="634.30" x2="120.30" y2="637.30" stroke="#050505" stroke-width="1.2" stroke-linecap="butt"/>
<text transform="translate(120.3,648.5) scale(0.96,1)" font-size="8.9" text-anchor="middle" fill="#111111" >3</text>
<line x1="87.80" y1="567.34" x2="87.80" y2="562.47" stroke="#0a0a0a" stroke-width="1.2" stroke-linecap="butt"/>
<line x1="84.90" y1="567.34" x2="90.70" y2="567.34" stroke="#0a0a0a" stroke-width="1.2" stroke-linecap="butt"/>
<line x1="84.90" y1="562.47" x2="90.70" y2="562.47" stroke="#0a0a0a" stroke-width="1.2" stroke-linecap="butt"/>
<line x1="87.80" y1="579.51" x2="87.80" y2="573.42" stroke="#0a0a0a" stroke-width="1.2" stroke-linecap="butt"/>
<line x1="84.90" y1="579.51" x2="90.70" y2="579.51" stroke="#0a0a0a" stroke-width="1.2" stroke-linecap="butt"/>
<line x1="84.90" y1="573.42" x2="90.70" y2="573.42" stroke="#0a0a0a" stroke-width="1.2" stroke-linecap="butt"/>
<line x1="120.30" y1="607.51" x2="120.30" y2="592.90" stroke="#0a0a0a" stroke-width="1.2" stroke-linecap="butt"/>
<line x1="117.40" y1="607.51" x2="123.20" y2="607.51" stroke="#0a0a0a" stroke-width="1.2" stroke-linecap="butt"/>
<line x1="117.40" y1="592.90" x2="123.20" y2="592.90" stroke="#0a0a0a" stroke-width="1.2" stroke-linecap="butt"/>
<polyline points="55.00,605.08 87.80,564.90 120.30,583.16" fill="none" stroke="#24315a" stroke-width="1.7" stroke-linejoin="round"/>
<polyline points="55.00,615.19 87.80,576.47 120.30,599.97" fill="none" stroke="#8e0b31" stroke-width="1.7" stroke-linejoin="round"/>
<rect x="52.10" y="602.18" width="5.8" height="5.8" fill="#fff" stroke="#24315a" stroke-width="1.2"/>
<rect x="84.90" y="562.00" width="5.8" height="5.8" fill="#fff" stroke="#24315a" stroke-width="1.2"/>
<rect x="117.40" y="580.26" width="5.8" height="5.8" fill="#fff" stroke="#24315a" stroke-width="1.2"/>
<circle cx="55.00" cy="615.19" r="3.0" fill="#a50a35" stroke="#8a0a2c" stroke-width="0.5"/>
<circle cx="87.80" cy="576.47" r="3.0" fill="#a50a35" stroke="#8a0a2c" stroke-width="0.5"/>
<circle cx="120.30" cy="599.97" r="3.0" fill="#a50a35" stroke="#8a0a2c" stroke-width="0.5"/>
<text x="57.6" y="555.2" font-size="8" text-anchor="middle" fill="#111111" >*</text>
<text x="87.8" y="555.2" font-size="8" text-anchor="middle" fill="#111111" >*</text>
<line x1="179.10" y1="532.50" x2="179.10" y2="634.95" stroke="#050505" stroke-width="1.4" stroke-linecap="butt"/>
<line x1="175.60" y1="634.30" x2="179.10" y2="634.30" stroke="#050505" stroke-width="1.2" stroke-linecap="butt"/>
<text transform="translate(172.79999999999998,637.55) scale(0.96,1)" font-size="8.9" text-anchor="end" fill="#111111" >0</text>
<line x1="175.60" y1="609.77" x2="179.10" y2="609.77" stroke="#050505" stroke-width="1.2" stroke-linecap="butt"/>
<text transform="translate(172.79999999999998,613.025) scale(0.96,1)" font-size="8.9" text-anchor="end" fill="#111111" >10</text>
<line x1="175.60" y1="585.25" x2="179.10" y2="585.25" stroke="#050505" stroke-width="1.2" stroke-linecap="butt"/>
<text transform="translate(172.79999999999998,588.5) scale(0.96,1)" font-size="8.9" text-anchor="end" fill="#111111" >20</text>
<line x1="175.60" y1="560.72" x2="179.10" y2="560.72" stroke="#050505" stroke-width="1.2" stroke-linecap="butt"/>
<text transform="translate(172.79999999999998,563.9749999999999) scale(0.96,1)" font-size="8.9" text-anchor="end" fill="#111111" >30</text>
<line x1="175.60" y1="536.20" x2="179.10" y2="536.20" stroke="#050505" stroke-width="1.2" stroke-linecap="butt"/>
<text transform="translate(172.79999999999998,539.4499999999999) scale(0.96,1)" font-size="8.9" text-anchor="end" fill="#111111" >40</text>
<line x1="178.40" y1="634.30" x2="247.50" y2="634.30" stroke="#050505" stroke-width="1.4" stroke-linecap="butt"/>
<line x1="179.10" y1="634.30" x2="179.10" y2="637.30" stroke="#050505" stroke-width="1.2" stroke-linecap="butt"/>
<text transform="translate(179.1,648.5) scale(0.96,1)" font-size="8.9" text-anchor="middle" fill="#111111" >3</text>
<line x1="201.10" y1="634.30" x2="201.10" y2="637.30" stroke="#050505" stroke-width="1.2" stroke-linecap="butt"/>
<text transform="translate(201.1,648.5) scale(0.96,1)" font-size="8.9" text-anchor="middle" fill="#111111" >4</text>
<line x1="222.60" y1="634.30" x2="222.60" y2="637.30" stroke="#050505" stroke-width="1.2" stroke-linecap="butt"/>
<text transform="translate(222.6,648.5) scale(0.96,1)" font-size="8.9" text-anchor="middle" fill="#111111" >5</text>
<line x1="244.60" y1="634.30" x2="244.60" y2="637.30" stroke="#050505" stroke-width="1.2" stroke-linecap="butt"/>
<text transform="translate(244.6,648.5) scale(0.96,1)" font-size="8.9" text-anchor="middle" fill="#111111" >6</text>
<line x1="222.60" y1="574.40" x2="222.60" y2="558.81" stroke="#0a0a0a" stroke-width="1.2" stroke-linecap="butt"/>
<line x1="219.70" y1="574.40" x2="225.50" y2="574.40" stroke="#0a0a0a" stroke-width="1.2" stroke-linecap="butt"/>
<line x1="219.70" y1="558.81" x2="225.50" y2="558.81" stroke="#0a0a0a" stroke-width="1.2" stroke-linecap="butt"/>
<line x1="201.10" y1="589.25" x2="201.10" y2="584.38" stroke="#0a0a0a" stroke-width="1.2" stroke-linecap="butt"/>
<line x1="198.20" y1="589.25" x2="204.00" y2="589.25" stroke="#0a0a0a" stroke-width="1.2" stroke-linecap="butt"/>
<line x1="198.20" y1="584.38" x2="204.00" y2="584.38" stroke="#0a0a0a" stroke-width="1.2" stroke-linecap="butt"/>
<line x1="222.60" y1="558.57" x2="222.60" y2="546.15" stroke="#0a0a0a" stroke-width="1.2" stroke-linecap="butt"/>
<line x1="219.70" y1="558.57" x2="225.50" y2="558.57" stroke="#0a0a0a" stroke-width="1.2" stroke-linecap="butt"/>
<line x1="219.70" y1="546.15" x2="225.50" y2="546.15" stroke="#0a0a0a" stroke-width="1.2" stroke-linecap="butt"/>
<line x1="244.60" y1="589.01" x2="244.60" y2="576.35" stroke="#0a0a0a" stroke-width="1.2" stroke-linecap="butt"/>
<line x1="241.70" y1="589.01" x2="247.50" y2="589.01" stroke="#0a0a0a" stroke-width="1.2" stroke-linecap="butt"/>
<line x1="241.70" y1="576.35" x2="247.50" y2="576.35" stroke="#0a0a0a" stroke-width="1.2" stroke-linecap="butt"/>
<polyline points="179.10,616.28 201.10,560.03 222.60,566.85 244.60,612.63" fill="none" stroke="#24315a" stroke-width="1.7" stroke-linejoin="round"/>
<polyline points="179.10,618.96 201.10,586.57 222.60,552.00 244.60,582.43" fill="none" stroke="#8e0b31" stroke-width="1.7" stroke-linejoin="round"/>
<rect x="176.20" y="613.38" width="5.8" height="5.8" fill="#fff" stroke="#24315a" stroke-width="1.2"/>
<rect x="198.20" y="557.13" width="5.8" height="5.8" fill="#fff" stroke="#24315a" stroke-width="1.2"/>
<rect x="219.70" y="563.95" width="5.8" height="5.8" fill="#fff" stroke="#24315a" stroke-width="1.2"/>
<rect x="241.70" y="609.73" width="5.8" height="5.8" fill="#fff" stroke="#24315a" stroke-width="1.2"/>
<circle cx="179.10" cy="618.96" r="3.0" fill="#a50a35" stroke="#8a0a2c" stroke-width="0.5"/>
<circle cx="201.10" cy="586.57" r="3.0" fill="#a50a35" stroke="#8a0a2c" stroke-width="0.5"/>
<circle cx="222.60" cy="552.00" r="3.0" fill="#a50a35" stroke="#8a0a2c" stroke-width="0.5"/>
<circle cx="244.60" cy="582.43" r="3.0" fill="#a50a35" stroke="#8a0a2c" stroke-width="0.5"/>
<text x="201.1" y="554.4" font-size="8" text-anchor="middle" fill="#111111" >**</text>
<text x="244.6" y="554.4" font-size="8" text-anchor="middle" fill="#111111" >*</text>
<line x1="296.30" y1="532.50" x2="296.30" y2="634.95" stroke="#050505" stroke-width="1.4" stroke-linecap="butt"/>
<line x1="292.80" y1="634.30" x2="296.30" y2="634.30" stroke="#050505" stroke-width="1.2" stroke-linecap="butt"/>
<text transform="translate(290.0,637.55) scale(0.96,1)" font-size="8.9" text-anchor="end" fill="#111111" >0</text>
<line x1="292.80" y1="614.68" x2="296.30" y2="614.68" stroke="#050505" stroke-width="1.2" stroke-linecap="butt"/>
<text transform="translate(290.0,617.93) scale(0.96,1)" font-size="8.9" text-anchor="end" fill="#111111" >2</text>
<line x1="292.80" y1="595.06" x2="296.30" y2="595.06" stroke="#050505" stroke-width="1.2" stroke-linecap="butt"/>
<text transform="translate(290.0,598.31) scale(0.96,1)" font-size="8.9" text-anchor="end" fill="#111111" >4</text>
<line x1="292.80" y1="575.44" x2="296.30" y2="575.44" stroke="#050505" stroke-width="1.2" stroke-linecap="butt"/>
<text transform="translate(290.0,578.6899999999999) scale(0.96,1)" font-size="8.9" text-anchor="end" fill="#111111" >6</text>
<line x1="292.80" y1="555.82" x2="296.30" y2="555.82" stroke="#050505" stroke-width="1.2" stroke-linecap="butt"/>
<text transform="translate(290.0,559.0699999999999) scale(0.96,1)" font-size="8.9" text-anchor="end" fill="#111111" >8</text>
<line x1="292.80" y1="536.20" x2="296.30" y2="536.20" stroke="#050505" stroke-width="1.2" stroke-linecap="butt"/>
<text transform="translate(290.0,539.4499999999999) scale(0.96,1)" font-size="8.9" text-anchor="end" fill="#111111" >10</text>
<line x1="295.60" y1="634.30" x2="364.50" y2="634.30" stroke="#050505" stroke-width="1.4" stroke-linecap="butt"/>
<line x1="296.30" y1="634.30" x2="296.30" y2="637.30" stroke="#050505" stroke-width="1.2" stroke-linecap="butt"/>
<text transform="translate(296.3,648.5) scale(0.96,1)" font-size="8.9" text-anchor="middle" fill="#111111" >3</text>
<line x1="318.30" y1="634.30" x2="318.30" y2="637.30" stroke="#050505" stroke-width="1.2" stroke-linecap="butt"/>
<text transform="translate(318.3,648.5) scale(0.96,1)" font-size="8.9" text-anchor="middle" fill="#111111" >4</text>
<line x1="339.80" y1="634.30" x2="339.80" y2="637.30" stroke="#050505" stroke-width="1.2" stroke-linecap="butt"/>
<text transform="translate(339.8,648.5) scale(0.96,1)" font-size="8.9" text-anchor="middle" fill="#111111" >5</text>
<line x1="361.60" y1="634.30" x2="361.60" y2="637.30" stroke="#050505" stroke-width="1.2" stroke-linecap="butt"/>
<text transform="translate(361.6,648.5) scale(0.96,1)" font-size="8.9" text-anchor="middle" fill="#111111" >6</text>
<line x1="318.30" y1="575.86" x2="318.30" y2="558.33" stroke="#0a0a0a" stroke-width="1.2" stroke-linecap="butt"/>
<line x1="315.40" y1="575.86" x2="321.20" y2="575.86" stroke="#0a0a0a" stroke-width="1.2" stroke-linecap="butt"/>
<line x1="315.40" y1="558.33" x2="321.20" y2="558.33" stroke="#0a0a0a" stroke-width="1.2" stroke-linecap="butt"/>
<line x1="339.80" y1="585.60" x2="339.80" y2="545.67" stroke="#0a0a0a" stroke-width="1.2" stroke-linecap="butt"/>
<line x1="336.90" y1="585.60" x2="342.70" y2="585.60" stroke="#0a0a0a" stroke-width="1.2" stroke-linecap="butt"/>
<line x1="336.90" y1="545.67" x2="342.70" y2="545.67" stroke="#0a0a0a" stroke-width="1.2" stroke-linecap="butt"/>
<line x1="361.60" y1="591.93" x2="361.60" y2="579.76" stroke="#0a0a0a" stroke-width="1.2" stroke-linecap="butt"/>
<line x1="358.70" y1="591.93" x2="364.50" y2="591.93" stroke="#0a0a0a" stroke-width="1.2" stroke-linecap="butt"/>
<line x1="358.70" y1="579.76" x2="364.50" y2="579.76" stroke="#0a0a0a" stroke-width="1.2" stroke-linecap="butt"/>
<line x1="339.80" y1="582.68" x2="339.80" y2="536.41" stroke="#0a0a0a" stroke-width="1.2" stroke-linecap="butt"/>
<line x1="336.90" y1="582.68" x2="342.70" y2="582.68" stroke="#0a0a0a" stroke-width="1.2" stroke-linecap="butt"/>
<line x1="336.90" y1="536.41" x2="342.70" y2="536.41" stroke="#0a0a0a" stroke-width="1.2" stroke-linecap="butt"/>
<line x1="361.60" y1="570.02" x2="361.60" y2="557.35" stroke="#0a0a0a" stroke-width="1.2" stroke-linecap="butt"/>
<line x1="358.70" y1="570.02" x2="364.50" y2="570.02" stroke="#0a0a0a" stroke-width="1.2" stroke-linecap="butt"/>
<line x1="358.70" y1="557.35" x2="364.50" y2="557.35" stroke="#0a0a0a" stroke-width="1.2" stroke-linecap="butt"/>
<polyline points="296.30,593.39 318.30,564.17 339.80,565.15 361.60,585.79" fill="none" stroke="#24315a" stroke-width="1.7" stroke-linejoin="round"/>
<polyline points="296.30,588.52 318.30,567.09 339.80,560.28 361.60,570.02" fill="none" stroke="#8e0b31" stroke-width="1.7" stroke-linejoin="round"/>
<rect x="293.40" y="590.49" width="5.8" height="5.8" fill="#fff" stroke="#24315a" stroke-width="1.2"/>
<rect x="315.40" y="561.27" width="5.8" height="5.8" fill="#fff" stroke="#24315a" stroke-width="1.2"/>
<rect x="336.90" y="562.25" width="5.8" height="5.8" fill="#fff" stroke="#24315a" stroke-width="1.2"/>
<rect x="358.70" y="582.89" width="5.8" height="5.8" fill="#fff" stroke="#24315a" stroke-width="1.2"/>
<circle cx="296.30" cy="588.52" r="3.0" fill="#a50a35" stroke="#8a0a2c" stroke-width="0.5"/>
<circle cx="318.30" cy="567.09" r="3.0" fill="#a50a35" stroke="#8a0a2c" stroke-width="0.5"/>
<circle cx="339.80" cy="560.28" r="3.0" fill="#a50a35" stroke="#8a0a2c" stroke-width="0.5"/>
<circle cx="361.60" cy="570.02" r="3.0" fill="#a50a35" stroke="#8a0a2c" stroke-width="0.5"/>
<text x="119.5" y="551" font-size="7.8" text-anchor="middle" fill="#111111" >p=.067</text>
<text transform="translate(33.5,583.6) rotate(-90) scale(0.9,1)" font-size="10.3" text-anchor="middle" fill="#111111" >BrdU<tspan dy="-1.8" font-size="6.5">+</tspan><tspan dy="1.8"> (%)</tspan></text>
<text x="89.5" y="662.2" font-size="10.6" text-anchor="middle" textLength="71" lengthAdjust="spacingAndGlyphs" fill="#111111" dy="0.6">Days post-culture</text>
<text transform="translate(158,583.6) rotate(-90) scale(0.9,1)" font-size="10.3" text-anchor="middle" fill="#111111" >BrdU<tspan dy="-1.8" font-size="6.5">+</tspan><tspan dy="1.8"> (%)</tspan></text>
<text x="213.8" y="662.2" font-size="10.6" text-anchor="middle" textLength="71" lengthAdjust="spacingAndGlyphs" fill="#111111" dy="0.6">Days post-culture</text>
<text transform="translate(274.5,583.6) rotate(-90) scale(0.9,1)" font-size="10.3" text-anchor="middle" fill="#111111" >BrdU<tspan dy="-1.8" font-size="6.5">+</tspan><tspan dy="1.8"> (%)</tspan></text>
<text x="331" y="662.2" font-size="10.6" text-anchor="middle" textLength="71" lengthAdjust="spacingAndGlyphs" fill="#111111" dy="0.6">Days post-culture</text>
<rect x="0" y="0" width="520" height="1" fill="#000"/>
<rect x="1" y="1" width="518" height="1" fill="#909090"/>
<rect x="0" y="0" width="1" height="672" fill="#000"/>
<rect x="1" y="1" width="1" height="670" fill="#909090"/>
<rect x="519" y="0" width="1" height="672" fill="#000"/>
<rect x="518" y="1" width="1" height="670" fill="#505050"/>
<rect x="517" y="2" width="1" height="668" fill="#e0e0e0"/>
<rect x="0" y="671" width="520" height="1" fill="#000"/>
<rect x="1" y="670" width="518" height="1" fill="#606060"/>
<rect x="2" y="669" width="516" height="1" fill="#e8e8e8"/>
</svg></body></html>
